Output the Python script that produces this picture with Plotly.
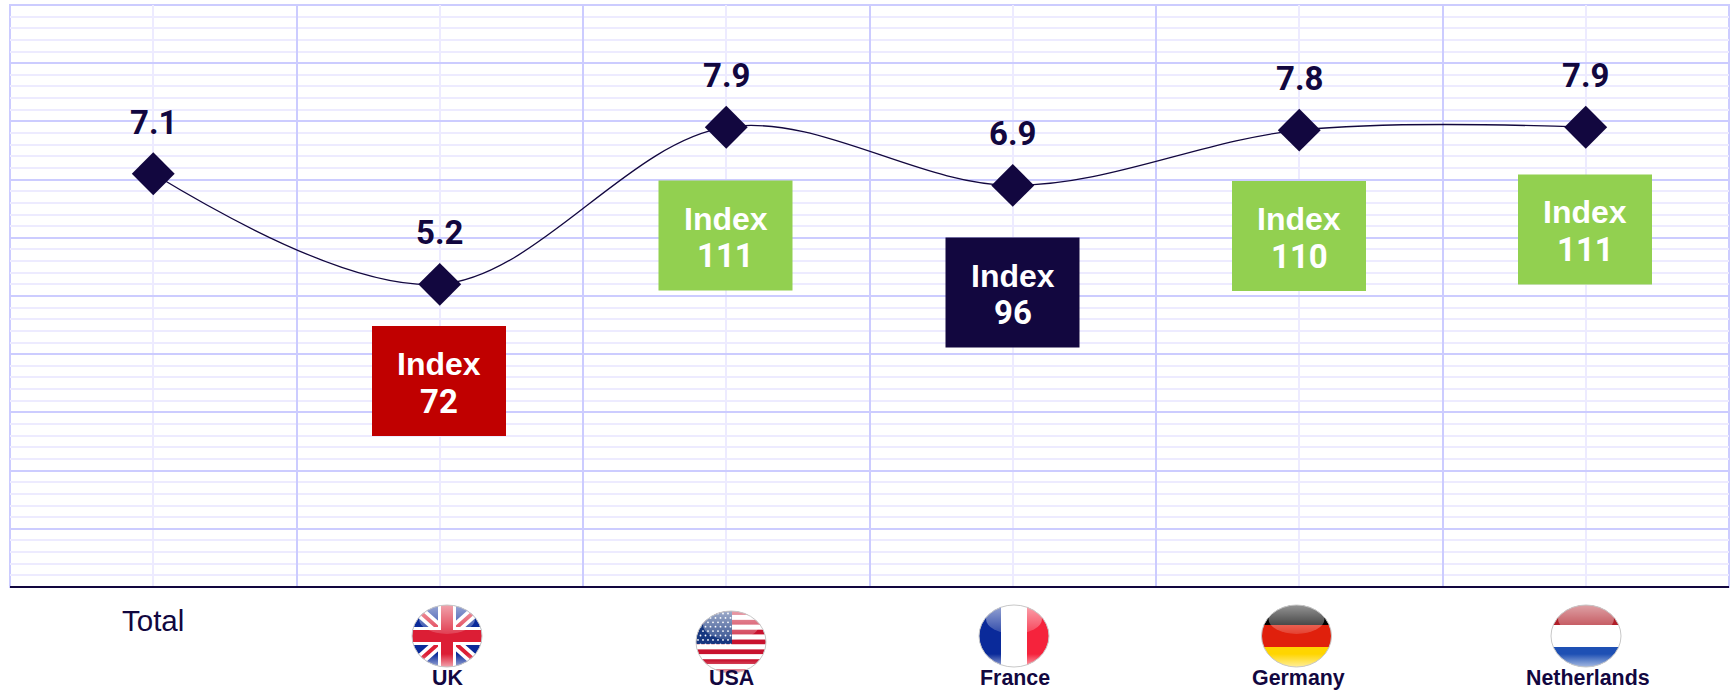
import base64
import plotly.graph_objects as go

categories = ["Total", "UK", "USA", "France", "Germany", "Netherlands"]
series_values = [7.1, 5.2, 7.9, 6.9, 7.85, 7.9]
value_labels = ["7.1", "5.2", "7.9", "6.9", "7.8", "7.9"]
index_categories = ["UK", "USA", "France", "Germany", "Netherlands"]
index_values = [72, 111, 96, 110, 111]
index_colors = ["#C00000", "#92D050", "#12073F", "#92D050", "#92D050"]

NAVY = "#12073F"
W, H = 1733, 690
L, R, T, B = 10, 1729, 5, 587
px = lambda v: (v - L) / (R - L)
py = lambda v: (B - v) / (B - T)

# Index box centres, in pixels
box_cx = [439, 725.5, 1012.5, 1299, 1585]
box_cy = [381, 235.5, 292.5, 236, 229.5]
BOX_W, BOX_H = 134, 110
# Flag centres and caption centres, in pixels
flag_cx = [447, 731, 1014, 1296.5, 1586]
flag_cy = [636, 642, 636, 636, 636]
caption_cx = [447, 731, 1015, 1298.5, 1588]


def wrap(body):
    svg = f'''<svg xmlns="http://www.w3.org/2000/svg" width="144" height="128" viewBox="0 0 72 64">
<defs>
<clipPath id="c"><ellipse cx="36" cy="32" rx="35" ry="31"/></clipPath>
<linearGradient id="g" x1="0" y1="0" x2="0" y2="1">
<stop offset="0" stop-color="#fff" stop-opacity="0.6"/><stop offset="1" stop-color="#fff" stop-opacity="0.15"/></linearGradient>
<linearGradient id="b" x1="0" y1="1" x2="0" y2="0">
<stop offset="0" stop-color="#fff" stop-opacity="0.65"/><stop offset="1" stop-color="#fff" stop-opacity="0"/></linearGradient>
</defs>
<g clip-path="url(#c)">{body}
<ellipse cx="36" cy="15" rx="28" ry="15" fill="url(#g)"/>
<rect x="0" y="50" width="72" height="14" fill="url(#b)"/>
</g>
<ellipse cx="36" cy="32" rx="35" ry="31" fill="none" stroke="#c8c8c8" stroke-width="1"/>
</svg>'''
    return "data:image/svg+xml;base64," + base64.b64encode(svg.encode()).decode()


def rect(x, y, w, h, c):
    return f'<rect x="{x}" y="{y}" width="{w}" height="{h}" fill="{c}"/>'


uk = (rect(0, 0, 72, 64, "#0A2A9A")
      + '<path d="M0 0L72 64M72 0L0 64" stroke="#fff" stroke-width="11"/>'
      + '<path d="M0 0L72 64M72 0L0 64" stroke="#DC1E35" stroke-width="4"/>'
      + rect(27, 0, 18, 64, "#fff") + rect(0, 23, 72, 18, "#fff")
      + rect(30, 0, 12, 64, "#DC1E35") + rect(0, 26, 72, 12, "#DC1E35"))
stripes = "".join(rect(0, i * 64 / 13, 72, 64 / 13 + 0.05, "#C8122E" if i % 2 == 0 else "#fff") for i in range(13))
stars = "".join(f'<circle cx="{3 + c * 5 + (r % 2) * 2.5}" cy="{3.5 + r * 4.4}" r="0.9" fill="#fff"/>'
                for r in range(8) for c in range(7))
us = stripes + rect(0, 0, 37, 34, "#16367F") + stars
fr = rect(0, 0, 23, 64, "#0A2A9A") + rect(23, 0, 26, 64, "#fff") + rect(49, 0, 23, 64, "#F5233C")
de = rect(0, 0, 72, 21, "#000") + rect(0, 21, 72, 22, "#E0200C") + rect(0, 43, 72, 21, "#FFD500")
nl = rect(0, 0, 72, 21, "#B01E28") + rect(0, 21, 72, 22, "#fff") + rect(0, 43, 72, 21, "#1E50B4")
flags = [wrap(uk), wrap(us), wrap(fr), wrap(de), wrap(nl)]

fig = go.Figure(go.Scatter(
    x=list(range(len(categories))), y=series_values, mode="lines+markers",
    line=dict(color=NAVY, width=1.3, shape="spline", smoothing=1),
    marker=dict(symbol="diamond", size=33, color=NAVY, line=dict(width=0)),
    hoverinfo="skip", showlegend=False,
))

ann = []
shapes = [
    dict(type="rect", xref="paper", yref="paper", x0=0, x1=1, y0=0, y1=1,
         line=dict(color="#CCCCFF", width=2), fillcolor="rgba(0,0,0,0)", layer="below"),
    dict(type="line", xref="paper", yref="paper", x0=0, x1=1, y0=0, y1=0,
         line=dict(color=NAVY, width=2), layer="above"),
]
for i, (v, t) in enumerate(zip(series_values, value_labels)):
    ann.append(dict(x=i, y=v, xref="x", yref="y", text=f"<b>{t}</b>", showarrow=False, yshift=51.5,
                    xanchor="center", yanchor="middle",
                    font=dict(family="Roboto", size=33, color=NAVY)))
for cx, cy, v, c in zip(box_cx, box_cy, index_values, index_colors):
    shapes.append(dict(type="rect", xref="paper", yref="paper", layer="above",
                       x0=px(cx - BOX_W / 2), x1=px(cx + BOX_W / 2),
                       y0=py(cy + BOX_H / 2), y1=py(cy - BOX_H / 2),
                       fillcolor=c, line=dict(width=0)))
    ann.append(dict(x=px(cx), y=py(cy - 17), xref="paper", yref="paper", showarrow=False, text="<b>Index</b>",
                    xanchor="center", yanchor="middle",
                    font=dict(family="Liberation Sans", size=32, color="white")))
    ann.append(dict(x=px(cx), y=py(cy + 20), xref="paper", yref="paper", showarrow=False, text=f"<b>{v}</b>",
                    xanchor="center", yanchor="middle",
                    font=dict(family="Roboto", size=33, color="white")))
ann.append(dict(x=0, y=py(620), xref="x", yref="paper", text="Total", showarrow=False,
                xanchor="center", yanchor="middle",
                font=dict(family="Liberation Sans", size=29.5, color=NAVY)))
for cx, t in zip(caption_cx, index_categories):
    ann.append(dict(x=px(cx), y=py(678.5), xref="paper", yref="paper", text=f"<b>{t}</b>", showarrow=False,
                    xanchor="center", yanchor="middle",
                    font=dict(family="Liberation Sans", size=21.4, color=NAVY)))

images = [dict(source=s, xref="paper", yref="paper", x=px(cx), y=py(cy), xanchor="center", yanchor="middle",
               sizex=72 / (R - L), sizey=64 / (B - T), sizing="stretch", layer="above")
          for s, cx, cy in zip(flags, flag_cx, flag_cy)]

fig.update_layout(
    width=W, height=H, autosize=False,
    margin=dict(l=L, r=W - R, t=T, b=H - B),
    paper_bgcolor="white", plot_bgcolor="white",
    xaxis=dict(range=[-0.5, 5.5], tick0=-0.5, dtick=1, showticklabels=False, ticks="", zeroline=False,
               showgrid=True, gridcolor="#CCCCFF", gridwidth=2,
               minor=dict(tick0=0, dtick=0.5, showgrid=True, gridcolor="#EDEBFF", gridwidth=2, ticks=""),
               showline=False, fixedrange=True),
    yaxis=dict(range=[0, 10], tick0=0, dtick=1, showticklabels=False, ticks="", zeroline=False,
               showgrid=True, gridcolor="#CCCCFF", gridwidth=2,
               minor=dict(tick0=0, dtick=0.2, showgrid=True, gridcolor="#EDEBFF", gridwidth=2, ticks=""),
               showline=False, fixedrange=True),
    annotations=ann, images=images, shapes=shapes,
)
fig.write_html("out.html", config=dict(displayModeBar=False),
               post_script="document.body.style.margin='0';")
